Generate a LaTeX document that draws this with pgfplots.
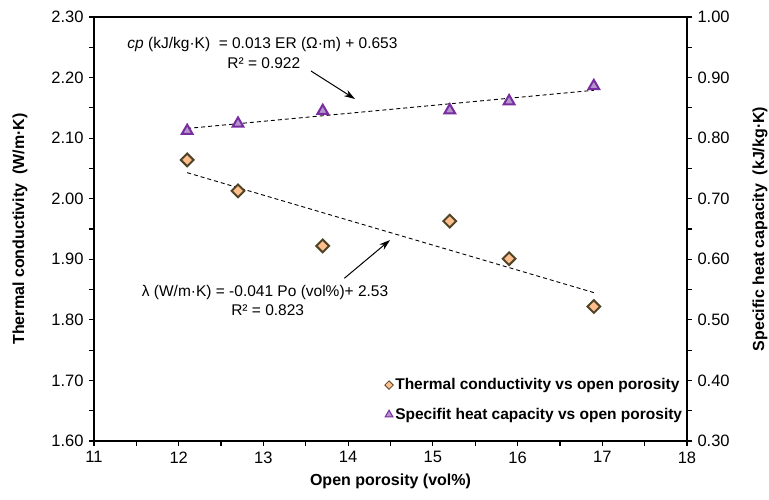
\documentclass[border=0pt]{standalone}
\usepackage{pgfplots}
\pgfplotsset{compat=1.18}
\usepackage{fontspec}
\setmainfont{Liberation Sans}
\usetikzlibrary{arrows.meta}
\definecolor{dfill}{RGB}{255,190,140}
\definecolor{dline}{RGB}{80,68,40}
\definecolor{tfill}{RGB}{180,150,205}
\definecolor{tline}{RGB}{120,45,160}
\pgfplotsset{
  common/.style={
    at={(0,0)}, anchor=south west,
    scale only axis, width=593pt, height=424pt,
    xmin=11, xmax=18,
    tick align=outside,
    major tick length=5pt, minor tick length=5pt,
    tick style={black, line width=1.2pt},
    axis line style={line width=1.6pt},
    /pgf/number format/assume math mode=true,
    ticklabel style={font=\fontsize{16.5}{19}\selectfont},
    label style={font=\bfseries\fontsize{16}{19}\selectfont},
    yticklabel style={/pgf/number format/.cd, fixed, fixed zerofill, precision=2},
  }
}
\begin{document}
\fontsize{16}{19}\selectfont
\begin{tikzpicture}
\useasboundingbox (-94pt,-58pt) rectangle (675pt,441pt);
\begin{axis}[common,
  ymin=1.6, ymax=2.3,
  xtick={11,12,13,14,15,16,17,18},
  ytick={1.6,1.7,1.8,1.9,2.0,2.1,2.2,2.3},
  minor tick num=1,
  xtick pos=lower, ytick pos=left,
  xticklabel style={/pgf/number format/.cd, fixed, precision=0},
  xlabel={Open porosity (vol\%)},
  ylabel={Thermal conductivity\ \ (W/m·K)},
  ylabel style={at={(axis description cs:-0.125,0.5)}, anchor=center},
  legend style={draw=none, fill=none, at={(0.485,0.097)}, anchor=west,
    font=\bfseries\fontsize{15.5}{18}\selectfont, row sep=12pt,
    /tikz/every even column/.append style={column sep=1pt}},
  legend cell align=left,
]
\addplot[only marks, mark=square*, mark size=4.5pt,
  mark options={rotate=45, fill=dfill, draw=dline, line width=2pt}, forget plot]
  coordinates {(12.1,2.064) (12.7,2.013) (13.7,1.922) (15.2,1.963) (15.9,1.901) (16.9,1.822)};
\addplot[black, line width=0.9pt, dash pattern=on 4pt off 3pt, forget plot]
  coordinates {(12.1,2.043) (16.9,1.845)};
\addlegendimage{only marks, mark=square*, mark size=3pt,
  mark options={rotate=45, fill=dfill, draw=dline, line width=0.8pt}}
\addlegendentry{Thermal conductivity vs open porosity}
\addlegendimage{only marks, mark=triangle*, mark size=4.5pt,
  mark options={fill=tfill, draw=tline, line width=1pt}}
\addlegendentry{Specifit heat capacity vs open porosity}
\node[font=\fontsize{15.5}{18}\selectfont] at (axis cs:12.989,2.2538)
  {\textit{cp} (kJ/kg·K)\ \ = 0.013 ER (Ω·m) + 0.653};
\node[font=\fontsize{15.5}{18}\selectfont] at (axis cs:13.005,2.2236) {R² = 0.922};
\node[font=\fontsize{15.5}{18}\selectfont] at (axis cs:13.019,1.8457)
  {λ (W/m·K) = -0.041 Po (vol\%)+ 2.53};
\node[font=\fontsize{15.5}{18}\selectfont] at (axis cs:13.05,1.8165) {R² = 0.823};
\draw[-{Stealth[length=11pt,width=7pt]}, line width=1pt]
  (axis cs:13.562,2.2108) -- (axis cs:14.081,2.1646);
\draw[-{Stealth[length=11pt,width=7pt]}, line width=1pt]
  (axis cs:13.955,1.8686) -- (axis cs:14.495,1.9318);
\end{axis}
\begin{axis}[common,
  ymin=0.3, ymax=1.0,
  axis x line=none, axis y line*=right,
  ytick={0.3,0.4,0.5,0.6,0.7,0.8,0.9,1.0},
  minor y tick num=1,
  ylabel={Specific heat capacity\ \ (kJ/kg·K)},
  ylabel style={at={(axis description cs:1.123,0.5)}, anchor=center},
]
\addplot[only marks, mark=triangle*, mark size=6.2pt,
  mark options={fill=tfill, draw=tline, line width=2pt}]
  coordinates {(12.1,0.812) (12.7,0.824) (13.7,0.845) (15.2,0.846) (15.9,0.861) (16.9,0.886)};
\addplot[black, line width=0.9pt, dash pattern=on 4pt off 3pt]
  coordinates {(12.1,0.816) (16.9,0.879)};
\end{axis}
\end{tikzpicture}
\end{document}
